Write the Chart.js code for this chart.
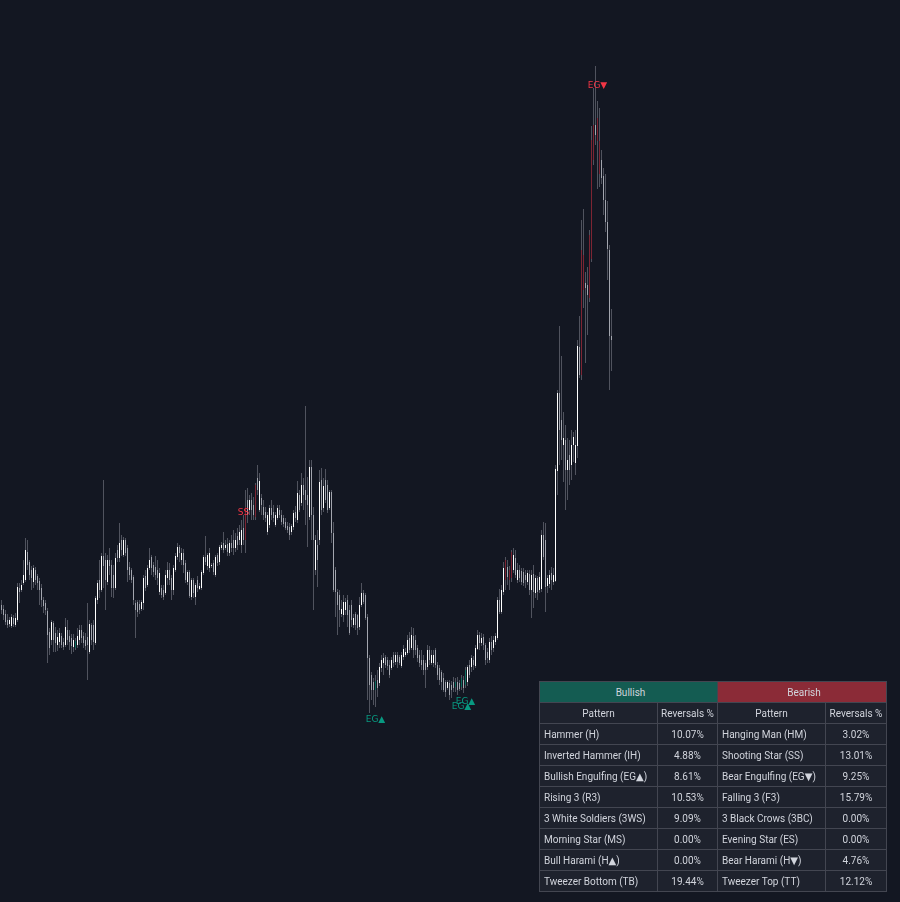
<!DOCTYPE html>
<html>
<head>
<meta charset="utf-8">
<script src="https://cdn.jsdelivr.net/npm/chart.js@4.4.1/dist/chart.umd.min.js"></script>
<style>
  html, body { margin: 0; padding: 0; background: #131722; }
  #wrap { position: relative; width: 900px; height: 902px; overflow: hidden; }
  #chart { display: block; }
  #stats {
    position: absolute; left: 539px; top: 681px;
    border-collapse: collapse; table-layout: fixed;
    font: 10px Roboto, "DejaVu Sans", sans-serif; color: #d1d4dc;
  }
  #stats td {
    border: 1px solid #434651; background: #1e222d;
    height: 20px; padding: 0 0 0 4px; white-space: nowrap; overflow: hidden;
  }
  #stats td.c { text-align: center; padding: 0; }
  #stats td.bull { background: #145c52; text-align: center; }
  #stats td.bear { background: #8b2b37; text-align: center; }
</style>
</head>
<body>
<div id="wrap">
  <canvas id="chart" width="900" height="902"></canvas>
  <table id="stats"></table>
</div>
<script>
/* OHLC, one candle per bar */
const opens = [
  395,391,386,380,376,374,382,375,380,412,
  410,417,420,448,438,430,418,430,424,419,
  412,400,397,389,368,360,377,367,355,358,
  364,358,355,370,364,362,353,352,355,360,
  370,364,360,363,348,375,375,357,400,420,
  410,444,440,418,440,435,425,412,450,442,
  460,445,460,452,433,430,423,397,398,396,
  391,397,424,415,432,443,435,433,430,408,
  412,410,407,422,430,422,410,430,443,453,
  440,447,437,418,428,403,420,403,420,411,
  412,427,443,434,432,434,437,425,445,438,
  452,457,452,456,447,457,460,452,464,460,
  455,472,493,500,490,500,495,515,522,490,
  502,493,488,468,475,492,488,475,482,490,
  485,482,478,474,473,468,473,488,480,505,
  497,515,510,505,483,533,485,430,455,460,
  520,492,520,515,492,508,467,430,408,405,
  386,385,390,400,390,395,375,386,385,373,
  395,407,405,383,342,325,318,310,320,317,
  332,337,343,340,335,332,345,338,345,343,
  334,343,345,347,362,352,364,360,352,345,
  340,340,337,333,350,337,337,350,335,332,
  328,322,318,312,317,315,318,313,318,317,
  313,320,315,318,335,333,340,334,351,365,
  357,363,355,348,340,358,352,358,362,400,
  388,408,440,433,430,448,430,442,420,430,
  429,428,425,418,426,410,426,407,422,410,
  411,465,460,414,416,427,418,419,529,607,
  580,555,560,530,545,535,555,537,554,653,
  625,745,717,715,702,741,840,875,882,859,
  840,824,800,778,750,664
];
const highs = [
  400,395,390,386,383,386,385,387,417,417,
  420,440,462,460,440,434,435,433,426,422,
  416,403,400,392,372,380,379,373,370,372,
  367,362,382,380,370,366,366,362,372,375,
  375,368,367,397,380,377,380,404,420,440,
  447,520,447,445,452,440,435,447,455,477,
  465,463,462,455,438,432,425,400,400,400,
  400,425,430,435,452,445,438,444,440,432,
  415,415,430,438,437,425,435,447,457,455,
  452,451,440,430,430,422,422,417,424,417,
  430,445,464,447,452,437,440,445,447,455,
  458,468,460,462,460,465,470,467,472,475,
  480,485,510,512,505,507,503,517,535,527,
  506,500,493,488,495,500,495,488,495,495,
  490,485,482,478,477,476,490,494,519,510,
  527,522,594,523,540,540,493,465,470,530,
  532,522,531,520,510,510,478,433,411,410,
  400,405,402,405,395,400,386,388,386,403,
  417,410,407,386,345,328,322,325,330,337,
  345,347,345,343,340,343,348,348,348,345,
  348,355,352,365,368,373,372,365,355,350,
  350,345,340,355,354,350,350,352,338,335,
  330,327,320,320,320,319,323,322,323,320,
  325,324,333,335,340,345,344,355,370,368,
  367,366,357,352,362,364,364,367,403,411,
  415,438,443,440,434,450,452,450,437,435,
  432,432,430,430,430,430,435,425,424,428,
  470,478,477,425,430,433,432,535,610,674,
  644,588,575,562,560,570,568,570,660,684,
  780,791,728,733,770,874,912,934,899,892,
  850,832,826,799,755,691
];
const lows = [
  386,380,375,372,373,372,373,373,378,397,
  408,415,418,430,420,410,412,415,410,395,
  393,387,385,337,345,355,348,348,349,352,
  352,350,353,355,350,346,348,350,352,355,
  357,352,350,320,346,355,350,355,396,402,
  408,412,390,415,425,403,402,410,438,438,
  444,443,444,418,420,417,395,362,383,386,
  389,390,409,413,430,425,423,420,415,405,
  402,400,405,415,415,400,405,428,440,438,
  435,427,417,415,402,400,402,395,408,410,
  410,425,435,430,428,432,425,423,434,435,
  450,447,450,444,444,448,445,448,450,455,
  447,455,447,477,485,480,480,480,505,488,
  485,480,478,465,472,480,478,473,480,482,
  475,473,470,467,460,465,470,478,477,488,
  494,490,475,453,480,460,390,425,413,455,
  485,488,497,487,490,457,408,383,365,373,
  383,378,385,373,365,373,372,370,365,370,
  393,396,380,300,287,300,295,293,303,314,
  328,325,332,330,322,330,333,335,332,335,
  332,340,343,345,347,350,342,345,338,333,
  330,325,312,330,335,335,333,332,320,315,
  310,308,303,310,300,302,308,308,305,309,
  310,307,312,314,322,328,330,332,350,350,
  354,350,335,337,337,345,348,355,360,386,
  386,405,410,415,410,418,427,422,417,418,
  415,414,412,415,405,382,392,402,400,407,
  408,440,388,407,412,410,415,418,505,535,
  540,518,490,500,515,520,538,525,542,622,
  620,692,637,665,698,738,835,855,811,813,
  816,785,768,720,610,629
];
const closes = [
  390,385,378,375,380,383,376,382,413,408,
  415,425,450,435,425,422,432,420,417,410,
  400,394,390,365,352,378,360,357,363,367,
  355,353,373,360,358,354,360,359,364,370,
  362,357,354,355,376,360,358,402,417,410,
  444,434,420,440,434,412,412,442,442,457,
  450,460,447,430,425,420,400,390,388,390,
  398,422,412,432,440,432,428,425,422,427,
  405,403,425,430,420,410,432,444,453,447,
  447,435,420,428,404,420,407,415,412,414,
  428,443,438,445,447,435,428,443,437,453,
  455,450,455,448,457,452,452,460,455,468,
  470,460,460,485,500,490,485,483,510,519,
  495,485,482,485,492,485,482,485,492,485,
  478,476,472,470,465,474,487,482,507,490,
  515,505,500,495,533,485,460,460,440,518,
  490,514,500,490,508,467,410,408,395,390,
  391,398,398,385,367,380,382,375,372,395,
  407,398,382,342,315,310,310,319,312,333,
  340,342,335,334,325,340,337,345,338,337,
  345,351,348,360,350,365,350,350,342,337,
  335,330,330,350,340,345,345,335,325,320,
  318,310,308,318,305,310,312,318,310,311,
  322,312,330,333,325,342,335,352,365,357,
  362,355,340,342,358,350,360,364,400,388,
  410,432,420,423,420,422,445,425,430,422,
  418,417,420,427,410,425,408,422,408,423,
  465,443,413,422,425,420,425,531,607,570,
  560,562,530,540,530,555,563,555,654,625,
  750,710,712,705,765,860,875,865,859,826,
  822,800,778,751,664,660
];

/* candles flagged by the pattern detector */
const bullMarks = [37, 187, 227, 230, 232];
const bearMarks = [122, 127, 252, 254, 255, 290, 291, 294, 295, 296, 298, 299];

/* pattern labels: candle index, text, price level */
const labelIdx = [121, 187, 230, 232, 298];
const labelText = ["SS", "EG▲", "EG▲", "EG▲", "EG▼"];
const labelPrice = [487, 280, 293, 298, 914];

/* stats table */
const bullPatterns = ["Hammer (H)", "Inverted Hammer (IH)", "Bullish Engulfing (EG▲)", "Rising 3 (R3)",
  "3 White Soldiers (3WS)", "Morning Star (MS)", "Bull Harami (H▲)", "Tweezer Bottom (TB)"];
const bullReversals = ["10.07%", "4.88%", "8.61%", "10.53%", "9.09%", "0.00%", "0.00%", "19.44%"];
const bearPatterns = ["Hanging Man (HM)", "Shooting Star (SS)", "Bear Engulfing (EG▼)", "Falling 3 (F3)",
  "3 Black Crows (3BC)", "Evening Star (ES)", "Bear Harami (H▼)", "Tweezer Top (TT)"];
const bearReversals = ["3.02%", "13.01%", "9.25%", "15.79%", "0.00%", "0.00%", "4.76%", "12.12%"];

const BULL_BODY = "#ffffff";
const BEAR_BODY = "#a3a6af";
const WICK = "#50535e";
const TEAL_BODY = "#0e6e5f";
const RED_BODY = "#7d2533";

/* build table */
const table = document.getElementById("stats");
let html = '<colgroup><col style="width:118px"><col style="width:60px"><col style="width:108px"><col style="width:61px"></colgroup>';
html += '<tr><td class="bull" colspan="2">Bullish</td><td class="bear" colspan="2">Bearish</td></tr>';
html += '<tr><td class="c">Pattern</td><td class="c">Reversals %</td><td class="c">Pattern</td><td class="c">Reversals %</td></tr>';
bullPatterns.forEach((name, i) => {
  html += `<tr><td>${name}</td><td class="c">${bullReversals[i]}</td><td>${bearPatterns[i]}</td><td class="c">${bearReversals[i]}</td></tr>`;
});
table.innerHTML = html;

/* chart */
const idx = closes.map((_, i) => i);
const wickData = idx.map(i => ({ x: i, y: [lows[i], highs[i]] }));
const bodyData = idx.map(i => ({ x: i, y: [opens[i], closes[i]] }));
const bodyColors = idx.map(i => {
  if (bullMarks.includes(i)) return TEAL_BODY;
  if (bearMarks.includes(i)) return RED_BODY;
  return closes[i] >= opens[i] ? BULL_BODY : BEAR_BODY;
});

const patternLabels = {
  id: "patternLabels",
  afterDatasetsDraw(chart) {
    const { ctx, scales: { x, y } } = chart;
    ctx.save();
    ctx.font = '9px "DejaVu Sans", sans-serif';
    ctx.textAlign = "center";
    ctx.textBaseline = "middle";
    labelIdx.forEach((ci, k) => {
      ctx.fillStyle = labelText[k].includes("▲") ? "#089981" : "#f23645";
      ctx.fillText(labelText[k], x.getPixelForValue(ci), y.getPixelForValue(labelPrice[k]));
    });
    ctx.restore();
  }
};

const barCommon = {
  barThickness: 1,
  grouped: false,
  inflateAmount: 0,
  borderWidth: 0,
  borderSkipped: false,
  minBarLength: 1
};

new Chart(document.getElementById("chart"), {
  type: "bar",
  data: {
    datasets: [
      { ...barCommon, label: "body", data: bodyData, backgroundColor: bodyColors, order: 1 },
      { ...barCommon, label: "wick", data: wickData, backgroundColor: WICK, order: 2 }
    ]
  },
  options: {
    responsive: false,
    animation: false,
    devicePixelRatio: 1,
    events: [],
    layout: { padding: 0 },
    plugins: { legend: { display: false }, tooltip: { enabled: false } },
    scales: {
      x: { type: "linear", min: -0.75, max: 449.25, offset: false, bounds: "data", display: false },
      y: { min: 98, max: 1000, display: false }
    }
  },
  plugins: [patternLabels]
});
</script>
</body>
</html>
